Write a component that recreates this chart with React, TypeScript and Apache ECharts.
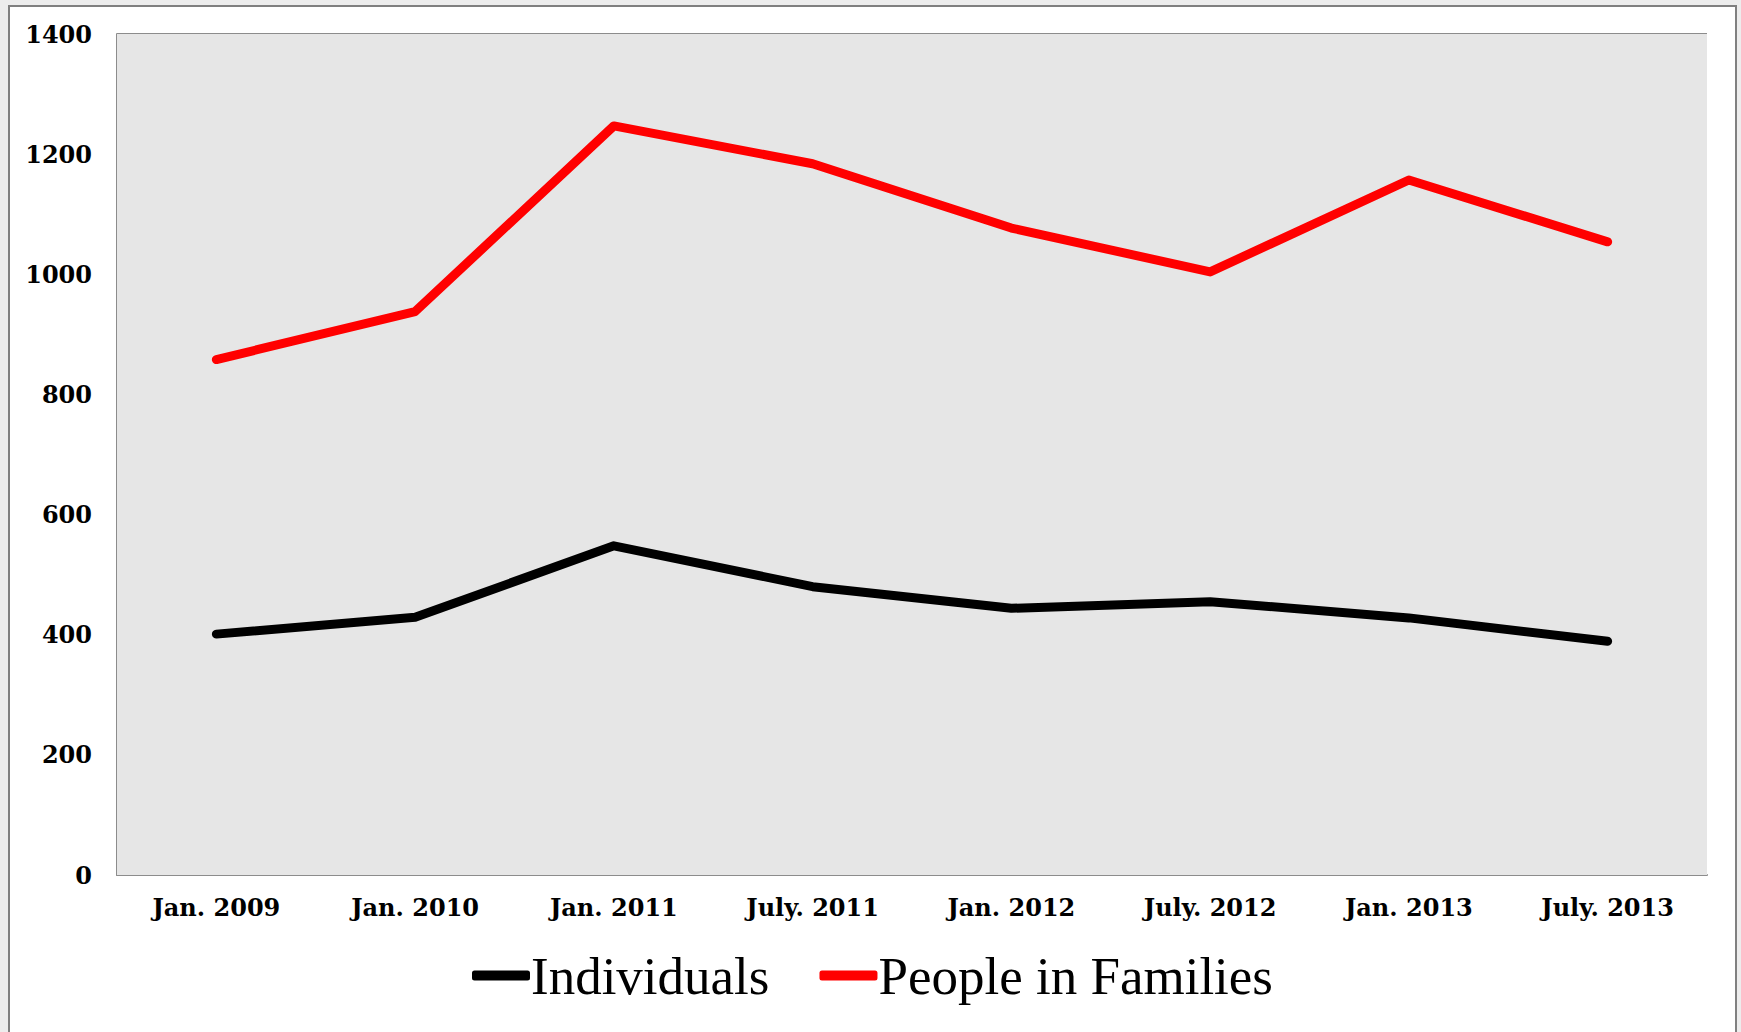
import React, { useEffect, useRef } from "react";
import * as echarts from "echarts";

const categories = ["Jan. 2009", "Jan. 2010", "Jan. 2011", "July. 2011", "Jan. 2012", "July. 2012", "Jan. 2013", "July. 2013"];
const individuals = [401, 429, 548, 480, 444, 455, 428, 389];
const peopleInFamilies = [858, 938, 1247, 1184, 1077, 1004, 1157, 1054];
const seriesNames = ["Individuals", "People in Families"];
const seriesColors = ["#000000", "#ff0000"];

export default function App() {
  const ref = useRef<HTMLDivElement>(null);
  useEffect(() => {
    document.body.style.margin = "0";
    const chart = echarts.init(ref.current!, null, { renderer: "svg" });
    const axisFont = { fontFamily: "DejaVu Serif", fontWeight: "bold" as const, fontSize: 24, color: "#000" };
    chart.setOption({
      animation: false,
      backgroundColor: "#ededed",
      grid: {
        left: 117,
        top: 34,
        right: 34,
        bottom: 157,
        show: true,
        backgroundColor: "#e6e6e6",
        borderWidth: 0,
        z: 1,
      },
      graphic: [
        {
          type: "rect",
          z: -10,
          silent: true,
          shape: { x: 9, y: 6, width: 1727, height: 1060 },
          style: { fill: "#ffffff", stroke: "#808080", lineWidth: 2 },
        },
      ],
      legend: {
        data: seriesNames,
        left: 467,
        top: 944,
        orient: "horizontal",
        icon: "roundRect",
        itemWidth: 58,
        itemHeight: 10,
        itemGap: 50,
        textStyle: { fontFamily: "Liberation Serif", fontSize: 53, color: "#000", padding: [0, 0, 0, -4] },
      },
      xAxis: {
        type: "category",
        data: categories,
        boundaryGap: true,
        axisLine: { show: true, lineStyle: { color: "#8c8c8c", width: 2 } },
        axisTick: { show: false },
        axisLabel: { ...axisFont, margin: 20, interval: 0 },
        splitLine: { show: false },
      },
      yAxis: {
        type: "value",
        min: 0,
        max: 1400,
        interval: 200,
        axisLine: { show: true, lineStyle: { color: "#8c8c8c", width: 2 } },
        axisTick: { show: false },
        axisLabel: { ...axisFont, margin: 25, formatter: (v: number) => String(v) },
        splitLine: { show: true, lineStyle: { color: "#8c8c8c", width: 2 } },
      },
      series: [
        {
          name: seriesNames[0],
          type: "line",
          data: individuals,
          showSymbol: false,
          color: seriesColors[0],
          lineStyle: { color: seriesColors[0], width: 9, cap: "round", join: "round" },
          z: 3,
        },
        {
          name: seriesNames[1],
          type: "line",
          data: peopleInFamilies,
          showSymbol: false,
          color: seriesColors[1],
          lineStyle: { color: seriesColors[1], width: 9, cap: "round", join: "round" },
          z: 3,
        },
      ],
    });
    return () => chart.dispose();
  }, []);
  return <div ref={ref} style={{ width: 1741, height: 1032 }} />;
}
